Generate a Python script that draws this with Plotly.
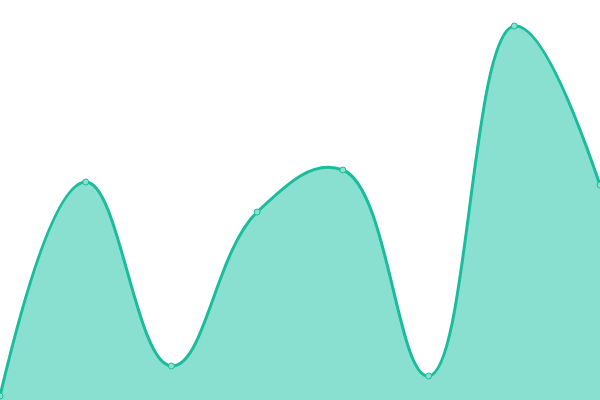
import plotly.graph_objects as go

x_vals = [0, 1, 2, 3, 4, 5, 6, 7]
y_vals = [1.0, 54.5, 8.5, 47.0, 57.5, 6.0, 93.5, 53.75]

fig = go.Figure()
fig.add_trace(go.Scatter(
    x=x_vals, y=y_vals,
    mode="lines+markers",
    line=dict(color="#1abc9c", width=3, shape="spline", smoothing=1.2),
    marker=dict(size=6, color="#8ce0d0", line=dict(color="#1abc9c", width=1)),
    fill="tozeroy",
    fillcolor="#8ae0d0",
    hoverinfo="skip",
))
fig.update_layout(
    width=600, height=400,
    margin=dict(l=0, r=0, t=0, b=0),
    paper_bgcolor="white", plot_bgcolor="white",
    showlegend=False,
    xaxis=dict(visible=False, range=[0, 7]),
    yaxis=dict(visible=False, range=[0, 100]),
)
fig.write_html("out.html", config={"displayModeBar": False},
               post_script="document.body.style.margin='0px';document.body.style.overflow='hidden';")
